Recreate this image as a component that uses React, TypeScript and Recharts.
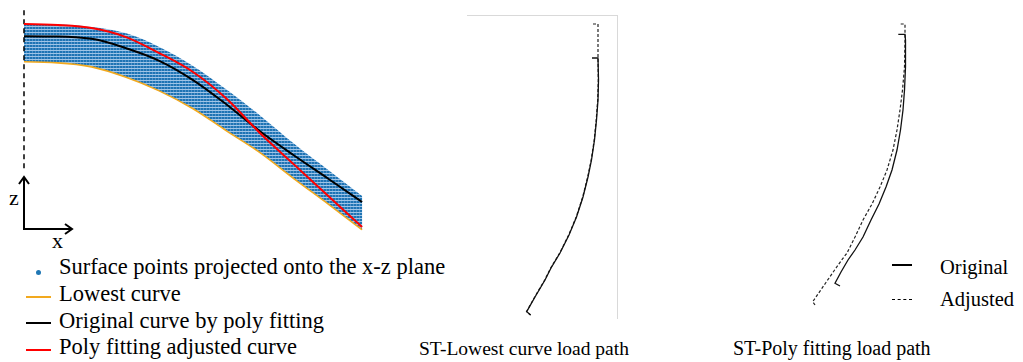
import React from "react";
import {
  ComposedChart,
  ScatterChart,
  Scatter,
  Line,
  Area,
  XAxis,
  YAxis,
  ReferenceLine,
} from "recharts";

// left panel: x stations along the profile, z of each curve
const stations = [0, 10, 20, 30, 40, 50, 60, 70, 80, 90, 100];
const adjustedZ = [0, -0.3, -1.2, -3.8, -8.6, -14.2, -22.2, -32.5, -41.7, -50.9, -60.1];
const originalZ = [-3.6, -3.7, -4.4, -7.1, -10.9, -16.6, -23.9, -31.9, -39.0, -45.8, -52.7];
const lowestZ = [-11.2, -11.5, -12.7, -15.7, -19.8, -25.1, -31.7, -38.2, -45.9, -53.3, -60.9];
const surfaceTopZ = [0, -0.15, -0.9, -2.7, -6.8, -12.4, -19.5, -27.2, -35.5, -43.2, -50.9];

// ST-Lowest curve load path (lateral offset, depth)
const lowOrigX = [-6, 0, 0.5, 0, -1.5, -3.5, -6.5, -10, -15, -21.5, -29, -38, -47, -53, -63, -71.3, -67.3];
const lowOrigY = [34, 34, 56, 76, 96, 116, 136, 153, 173, 193, 211, 229, 244, 256, 273, 287.7, 291];
const lowAdjX = [-5, 0, 0, 0.3, -0.3, -1.8, -3.8, -6.8, -10.3, -15.3, -21.8, -29.3, -38.3, -47.3, -53.3, -63.3, -71.5, -67.5];
const lowAdjY = [0, 0, 34, 56, 76, 96, 116, 136, 153, 173, 193, 211, 229, 244, 256, 273, 287.7, 291];

// ST-Poly fitting load path (lateral offset, depth)
const polyOrigX = [-6.7, 0, 0.5, 0.5, -0.5, -2, -4.5, -8, -13, -19, -26, -34, -42, -50, -57, -64, -70, -65];
const polyOrigY = [10.3, 10.3, 16, 43, 66, 86, 106, 126, 146, 163, 180, 196, 213, 226, 236, 248, 259.3, 262];
const polyAdjX = [-4.3, 0, 0, -0.5, -2.5, -5, -8, -12, -18, -25, -33, -42, -50, -58, -63.3, -69, -79.4, -86.3, -92.3, -90];
const polyAdjY = [0, 0, 16, 43, 66, 86, 106, 126, 146, 163, 180, 196, 213, 229, 236, 244, 259, 269, 277.7, 281];

const profileRows = stations.map((x, i) => ({
  x,
  adjusted: adjustedZ[i],
  original: originalZ[i],
  lowest: lowestZ[i],
  band: [lowestZ[i], surfaceTopZ[i]],
}));

const toPts = (xs: number[], ys: number[]) => xs.map((x, i) => ({ x, y: ys[i] }));

const serif = '"Liberation Serif", "Times New Roman", serif';
const noShape = () => <g />;

const Txt = ({ left, base, size = 20, children }: any) => (
  <div
    style={{
      position: "absolute",
      left,
      top: base - size * 0.84,
      fontSize: size,
      lineHeight: `${size}px`,
      fontFamily: serif,
      whiteSpace: "nowrap",
      color: "#000",
    }}
  >
    {children}
  </div>
);

const Mark = ({ left, top, width, color, dashed }: any) => (
  <div
    style={{
      position: "absolute",
      left,
      top,
      width,
      borderTop: `2px ${dashed ? "dashed" : "solid"} ${color}`,
    }}
  />
);

const LoadPath = ({ left, xDomain, orig, adj }: any) => (
  <div style={{ position: "absolute", left, top: 0 }}>
    <ScatterChart width={200} height={330} margin={{ top: 0, right: 0, bottom: 0, left: 0 }}>
      <XAxis type="number" dataKey="x" domain={xDomain} allowDataOverflow hide />
      <YAxis type="number" dataKey="y" domain={[-24, 306]} reversed allowDataOverflow hide />
      <Scatter
        data={adj}
        fill="#000"
        shape={noShape}
        line={{ stroke: "#222", strokeWidth: 1.2, strokeDasharray: "3 2" }}
        isAnimationActive={false}
      />
      <Scatter
        data={orig}
        fill="#000"
        shape={noShape}
        line={{ stroke: "#111", strokeWidth: 1.3 }}
        isAnimationActive={false}
      />
    </ScatterChart>
  </div>
);

export default function App() {
  return (
    <div style={{ position: "relative", width: 1023, height: 362, background: "#fff", overflow: "hidden" }}>
      <style>{`body{margin:0}`}</style>

      <div style={{ position: "absolute", left: 0, top: 0 }}>
        <ComposedChart width={380} height={250} data={profileRows} margin={{ top: 0, right: 0, bottom: 0, left: 0 }}>
          <defs>
            <pattern id="surfacePts" width="3" height="3" patternUnits="userSpaceOnUse">
              <rect width="3" height="3" fill="#9fc4e6" />
              <rect width="3" height="2" fill="#1f74b3" />
              <rect x="2" width="1" height="2" fill="#4d92cc" />
            </pattern>
          </defs>
          <XAxis type="number" dataKey="x" domain={[-7.1, 105.3]} allowDataOverflow hide />
          <YAxis type="number" domain={[-66.9, 7.1]} allowDataOverflow hide />
          <Area
            type="monotone"
            dataKey="band"
            fill="url(#surfacePts)"
            fillOpacity={1}
            stroke="none"
            isAnimationActive={false}
          />
          <ReferenceLine
            segment={[{ x: 0, y: 4.1 }, { x: 0, y: -43.8 }]}
            stroke="#000"
            strokeWidth={1.5}
            strokeDasharray="5 4"
          />
          <Line type="monotone" dataKey="lowest" stroke="#f2a91e" strokeWidth={1.6} dot={false} isAnimationActive={false} />
          <Line type="monotone" dataKey="original" stroke="#000" strokeWidth={2} dot={false} isAnimationActive={false} />
          <Line type="monotone" dataKey="adjusted" stroke="#ff0000" strokeWidth={2} dot={false} isAnimationActive={false} />
        </ComposedChart>
      </div>

      <svg style={{ position: "absolute", left: 0, top: 0 }} width={90} height={240}>
        <g stroke="#000" strokeWidth={2} fill="none">
          <line x1={24} y1={230} x2={24} y2={177} />
          <polyline points="19,184 24,177 29,184" />
          <line x1={23} y1={229} x2={72} y2={229} />
          <polyline points="65,224 72,229 65,234" />
        </g>
      </svg>
      <Txt left={9} base={205} size={22}>z</Txt>
      <Txt left={52} base={248} size={22}>x</Txt>

      <div style={{ position: "absolute", left: 36, top: 270, width: 5, height: 5, borderRadius: 3, background: "#1f77b4" }} />
      <Txt left={59} base={275} size={22.5}>Surface points projected onto the x-z plane</Txt>
      <Mark left={26} top={296} width={25} color="#f2a91e" />
      <Txt left={59} base={302} size={22.5}>Lowest curve</Txt>
      <Mark left={26} top={322} width={25} color="#000" />
      <Txt left={59} base={329} size={22.5}>Original curve by poly fitting</Txt>
      <Mark left={26} top={349} width={25} color="#ff0000" />
      <Txt left={59} base={355} size={22.5}>Poly fitting adjusted curve</Txt>

      <div
        style={{
          position: "absolute",
          left: 467,
          top: 15,
          width: 150,
          height: 303,
          borderTop: "1px solid #d9d9d9",
          borderRight: "1px solid #d9d9d9",
        }}
      />
      <LoadPath left={440} xDomain={[-158, 42]} orig={toPts(lowOrigX, lowOrigY)} adj={toPts(lowAdjX, lowAdjY)} />
      <Txt left={419} base={355} size={19.5}>ST-Lowest curve load path</Txt>

      <LoadPath left={740} xDomain={[-165, 35]} orig={toPts(polyOrigX, polyOrigY)} adj={toPts(polyAdjX, polyAdjY)} />
      <Txt left={733} base={355} size={20}>ST-Poly fitting load path</Txt>

      <Mark left={892} top={264} width={20} color="#000" />
      <Txt left={940} base={274} size={20.5}>Original</Txt>
      <div style={{ position: "absolute", left: 892, top: 299, width: 20, borderTop: "1.5px dashed #000" }} />
      <Txt left={940} base={306} size={20.5}>Adjusted</Txt>
    </div>
  );
}
